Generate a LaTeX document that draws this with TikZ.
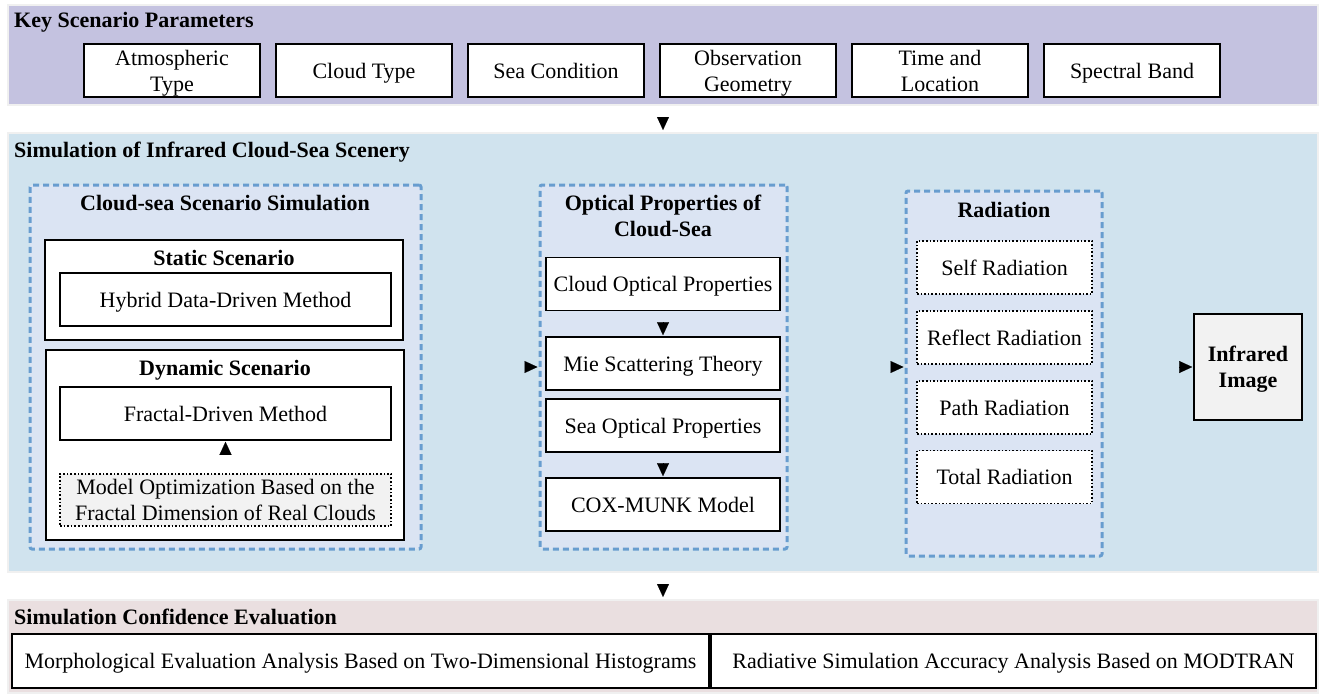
\documentclass[tikz,border=0pt]{standalone}
\usepackage{fontspec}
\setmainfont{Liberation Serif}
\usetikzlibrary{arrows.meta}
\definecolor{keybg}{RGB}{196,194,224}
\definecolor{simbg}{RGB}{208,227,238}
\definecolor{confbg}{RGB}{234,223,224}
\definecolor{grpbg}{RGB}{219,228,243}
\definecolor{grpline}{RGB}{104,157,207}
\definecolor{softgray}{RGB}{242,242,242}
\begin{document}
\begin{tikzpicture}[x=1pt,y=-1pt,
  font=\fontsize{22}{26}\selectfont,
  panel/.style={draw=black!6,line width=2pt,minimum width=1310pt,inner sep=0pt},
  head/.style={font=\fontsize{22}{26}\selectfont\bfseries,inner sep=0pt,text depth=0pt},
  box/.style={draw,fill=white,line width=1.6pt,align=center,inner sep=0pt,minimum height=53pt,text depth=0pt},
  dotbox/.style={box,dotted},
  group/.style={draw=grpline,fill=grpbg,line width=3pt,dash pattern=on 6pt off 4pt,rounded corners=2pt,inner sep=0pt},
  tip/.style={-{Triangle[length=13pt,width=12pt]},line width=0.1pt}]
  \useasboundingbox (0,0) rectangle (1321,693);
  % panels
  \node[panel,fill=keybg,minimum height=100pt] (keypar) at (663,55) {};
  \node[panel,fill=simbg,minimum height=439pt] (sim) at (663,352.5) {};
  \node[panel,fill=confbg,minimum height=93pt] (conf) at (663,646.5) {};
  \node[head,anchor=west] at (14,20) {Key Scenario Parameters};
  \node[head,anchor=west] at (14,150) {Simulation of Infrared Cloud-Sea Scenery};
  \node[head,anchor=west] at (14,617) {Simulation Confidence Evaluation};
  % key parameters
  \node[box,minimum width=176pt] (atmo) at (172,70.5) {Atmospheric\\Type};
  \node[box,minimum width=176pt] (cloudtype) at (364,70.5) {Cloud Type};
  \node[box,minimum width=176pt] (seacond) at (556,70.5) {Sea Condition};
  \node[box,minimum width=176pt] (obsgeo) at (748,70.5) {Observation\\Geometry};
  \node[box,minimum width=176pt] (timeloc) at (940,70.5) {Time and\\Location};
  \node[box,minimum width=176pt] (band) at (1132,70.5) {Spectral Band};
  % cloud-sea scenario simulation
  \node[group,minimum width=391pt,minimum height=364pt] (scene) at (225.5,367) {};
  \node[head] at (225,203) {Cloud-sea Scenario Simulation};
  \node[box,minimum width=358pt,minimum height=100pt] (static) at (224,290) {};
  \node[head] at (224,258) {Static Scenario};
  \node[box,minimum width=331pt] (hybrid) at (225.5,299.5) {Hybrid Data-Driven Method};
  \node[box,minimum width=358pt,minimum height=190pt] (dynamic) at (225,445) {};
  \node[head] at (225,368) {Dynamic Scenario};
  \node[box,minimum width=331pt] (fractal) at (225.5,413.5) {Fractal-Driven Method};
  \node[dotbox,fill=softgray,minimum width=331pt,minimum height=52pt] (optim) at (225.5,500)
    {Model Optimization Based on the\\Fractal Dimension of Real Clouds};
  % optical properties
  \node[group,minimum width=247pt,minimum height=364pt] (optic) at (663.5,367) {};
  \node[head,align=center] at (663,216) {Optical Properties of\\Cloud-Sea};
  \node[box,minimum width=234pt] (cloudopt) at (663,284) {Cloud Optical Properties};
  \node[box,minimum width=234pt] (mie) at (663,363.5) {Mie Scattering Theory};
  \node[box,minimum width=234pt] (seaopt) at (663,425.5) {Sea Optical Properties};
  \node[box,minimum width=234pt] (coxmunk) at (663,504.5) {COX-MUNK Model};
  % radiation
  \node[group,minimum width=196pt,minimum height=365pt] (rad) at (1004,373.5) {};
  \node[head] at (1004,210) {Radiation};
  \node[dotbox,minimum width=175pt] (selfrad) at (1004.5,267.5) {Self Radiation};
  \node[dotbox,minimum width=175pt] (reflrad) at (1004.5,337.5) {Reflect Radiation};
  \node[dotbox,minimum width=175pt] (pathrad) at (1004.5,407.5) {Path Radiation};
  \node[dotbox,minimum width=175pt] (totrad) at (1004.5,477) {Total Radiation};
  \node[box,fill=softgray,minimum width=108pt,minimum height=106pt,font=\fontsize{22}{26}\selectfont\bfseries] (infra) at (1248,367) {Infrared\\Image};
  % evaluation
  \node[box,minimum width=697pt,minimum height=54pt] (morph) at (360.5,661) {Morphological Evaluation Analysis Based on Two-Dimensional Histograms};
  \node[box,minimum width=605pt,minimum height=54pt] (radacc) at (1013.5,661) {Radiative Simulation Accuracy Analysis Based on MODTRAN};
  % arrows
  \draw[tip,shorten <=13pt,shorten >=2pt] (keypar.south) -- (sim.north);
  \draw[tip,shorten <=13pt,shorten >=2pt] (sim.south) -- (conf.north);
  \draw[tip,shorten <=105pt,shorten >=1pt] (scene.east) -- (optic.west);
  \draw[tip,shorten <=105pt,shorten >=1pt] (optic.east) -- (optic.east -| rad.west);
  \draw[tip,shorten <=78pt,shorten >=1pt] (infra.west -| rad.east) -- (infra.west);
  \draw[tip,shorten <=12pt,shorten >=1pt] (cloudopt.south) -- (mie.north);
  \draw[tip,shorten <=11pt,shorten >=1pt] (seaopt.south) -- (coxmunk.north);
  \draw[tip,shorten <=20pt,shorten >=1pt] (optim.north) -- (fractal.south);
\end{tikzpicture}
\end{document}
